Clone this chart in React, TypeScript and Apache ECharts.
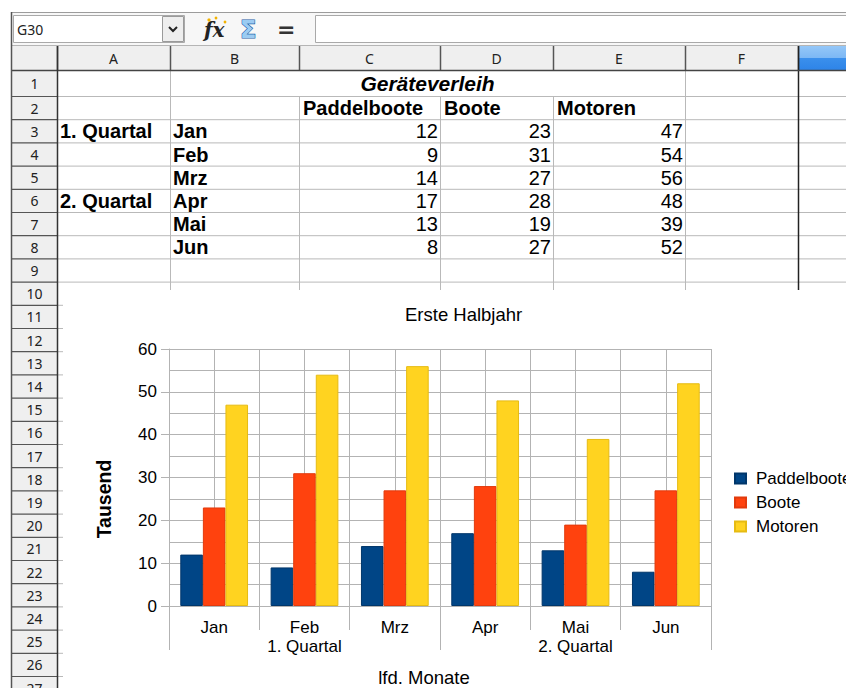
import React, { useEffect, useRef } from 'react';
import * as echarts from 'echarts';

// ---------- data ----------
const months = ['Jan', 'Feb', 'Mrz', 'Apr', 'Mai', 'Jun'];
const quarters = ['1. Quartal', '2. Quartal'];
const seriesNames = ['Paddelboote', 'Boote', 'Motoren'];
const paddelboote = [12, 9, 14, 17, 13, 8];
const boote = [23, 31, 27, 28, 19, 27];
const motoren = [47, 54, 56, 48, 39, 52];
const columnLetters = ['A', 'B', 'C', 'D', 'E', 'F'];
const rowNumbers = [1, 2, 3, 4, 5, 6, 7, 8, 9, 10, 11, 12, 13, 14, 15, 16, 17, 18, 19, 20, 21, 22, 23, 24, 25, 26, 27];
const sheetTitle = 'Geräteverleih';
const chartTitle = 'Erste Halbjahr';
const yAxisTitle = 'Tausend';
const xAxisTitle = 'lfd. Monate';
const nameBoxText = 'G30';
const yMin = 0;
const yMax = 60;
const yStep = 10;

// ---------- styles / layout ----------
const seriesColors = ['#004586', '#ff420e', '#ffd320'];
const seriesBorders = ['#00366a', '#e23a0c', '#e6bb12'];
const FONT = "'Liberation Sans', Arial, sans-serif";
const UI_FONT = "'Noto Sans', 'Open Sans', sans-serif";
const COL_X = [12, 57, 170, 299, 440, 553, 685, 798, 846];
const CHART_TOP = 290;
const CHART_LEFT = 63;
const GRID_COLOR = '#b3b3b3';

const rowTop = (r: number) => (r === 1 ? 70 : 96 + (r - 2) * 23.2);
const rowMid = (r: number) => (rowTop(r) + rowTop(r + 1)) / 2;

function buildSheet(): any[] {
  const els: any[] = [];
  const L = (x1: number, y1: number, x2: number, y2: number, stroke: string, w = 1) =>
    els.push({ type: 'line', silent: true, shape: { x1, y1, x2, y2 }, style: { stroke, lineWidth: w } });
  const T = (text: string, x: number, y: number, font: string, fill = '#000', align = 'left', extra: any = {}) =>
    els.push({ type: 'text', silent: true, x, y, style: { text, font, fill, align, verticalAlign: 'middle', ...extra } });

  // toolbar
  els.push({ type: 'rect', silent: true, shape: { x: 11, y: 12, width: 835, height: 34 }, style: { fill: '#f7f7f7' } });
  L(11, 12.5, 846, 12.5, '#9c9c9c');
  els.push({ type: 'rect', silent: true, shape: { x: 13.5, y: 15.5, width: 171, height: 27 }, style: { fill: '#ffffff', stroke: '#a9a9a9', lineWidth: 1 } });
  T(nameBoxText, 17, 29.5, `14px ${UI_FONT}`, '#222');
  els.push({ type: 'rect', silent: true, shape: { x: 162.5, y: 16.5, width: 21, height: 25 }, style: { fill: '#eeeeee', stroke: '#9a9a9a', lineWidth: 1 } });
  els.push({ type: 'polyline', silent: true, shape: { points: [[169, 27], [173, 31], [177, 27]] }, style: { stroke: '#222', lineWidth: 2, fill: null } });
  T('fx', 204, 30, `italic bold 20px 'DejaVu Serif', serif`, '#222');
  els.push({ type: 'circle', silent: true, shape: { cx: 209, cy: 20, r: 1.6 }, style: { fill: '#f2b200' } });
  els.push({ type: 'circle', silent: true, shape: { cx: 216, cy: 18, r: 1.4 }, style: { fill: '#f2b200' } });
  els.push({ type: 'circle', silent: true, shape: { cx: 225, cy: 22, r: 1.4 }, style: { fill: '#f2b200' } });
  T('Σ', 240, 30, `bold 24px 'DejaVu Sans', sans-serif`, '#9ccbf2', 'left', { stroke: '#1d5ea8', lineWidth: 1.2 });
  T('=', 277, 29.5, `bold 22px 'DejaVu Sans', sans-serif`, '#333');
  els.push({ type: 'rect', silent: true, shape: { x: 315.5, y: 15.5, width: 540, height: 27 }, style: { fill: '#ffffff', stroke: '#a9a9a9', lineWidth: 1 } });
  L(11, 45.5, 846, 45.5, '#b5b5b5');

  // column header
  els.push({ type: 'rect', silent: true, shape: { x: 12, y: 46, width: 834, height: 24 }, style: { fill: '#efefef' } });
  els.push({
    type: 'rect', silent: true, shape: { x: 798, y: 46, width: 48, height: 24 },
    style: {
      fill: new echarts.graphic.LinearGradient(0, 0, 0, 1, [
        { offset: 0, color: '#94c7f8' },
        { offset: 0.48, color: '#7db8f5' },
        { offset: 0.52, color: '#3a8fec' },
        { offset: 1, color: '#2e84e8' },
      ]),
    },
  });
  columnLetters.forEach((c, i) => {
    T(c, (COL_X[i + 1] + COL_X[i + 2]) / 2, 58.5, `14px ${UI_FONT}`, '#222', 'center');
  });
  for (let i = 1; i < COL_X.length - 1; i++) L(COL_X[i] + 0.5, 46, COL_X[i] + 0.5, 70, '#555', 1.5);

  // row header column
  els.push({ type: 'rect', silent: true, shape: { x: 12, y: 70, width: 45, height: 620 }, style: { fill: '#efefef' } });

  // cell grid
  rowNumbers.forEach((r) => {
    const yb = rowTop(r + 1) + 0.5;
    if (yb < CHART_TOP) L(57, yb, 846, yb, '#b9b9b9');
    else L(57, yb, CHART_LEFT, yb, '#b9b9b9');
    L(12, yb, 57, yb, '#555', 1.2);
    T(String(r), 34.5, rowMid(r) + 0.5, `14px ${UI_FONT}`, '#222', 'center');
  });
  [170, 299, 440, 553, 685].forEach((x) => {
    const merged = x === 299 || x === 440 || x === 553;
    L(x + 0.5, merged ? rowTop(2) : 70, x + 0.5, CHART_TOP, '#b9b9b9');
  });
  L(798.5, 46, 798.5, CHART_TOP, '#222', 1.5);
  L(12, 70.5, 846, 70.5, '#444', 1.5);
  L(57.5, 46, 57.5, 688, '#333', 1.5);
  L(11.5, 12, 11.5, 688, '#555', 1.5);

  // cell contents
  const BOLD = `bold 20px ${FONT}`;
  const REG = `20px ${FONT}`;
  T(sheetTitle, (COL_X[2] + COL_X[6]) / 2, rowMid(1), `italic bold 21px ${FONT}`, '#000', 'center');
  seriesNames.forEach((n, i) => T(n, COL_X[3 + i] + 4, rowMid(2) + 0.5, BOLD));
  quarters.forEach((q, i) => T(q, COL_X[1] + 3, rowMid(3 + i * 3) + 0.5, BOLD));
  months.forEach((m, i) => T(m, COL_X[2] + 3, rowMid(3 + i) + 0.5, BOLD));
  [paddelboote, boote, motoren].forEach((vals, c) => {
    vals.forEach((v, i) => T(String(v), COL_X[4 + c] - 2, rowMid(3 + i) + 0.5, REG, '#000', 'right'));
  });

  // chart free texts
  els.push({
    type: 'text', silent: true, x: 104, y: 499, rotation: Math.PI / 2,
    style: { text: yAxisTitle, font: `bold 19.5px ${FONT}`, fill: '#000', align: 'center', verticalAlign: 'middle' },
  });
  T(xAxisTitle, 424, 677.5, `18.5px ${FONT}`, '#000', 'center');
  return els;
}

export default function App() {
  const ref = useRef<HTMLDivElement>(null);
  useEffect(() => {
    if (!ref.current) return;
    const chart = echarts.init(ref.current, null, { renderer: 'svg' });
    const halfSlots = months.flatMap((m) => [m + '-a', m + '-b']);
    const seriesData = [paddelboote, boote, motoren];
    chart.setOption({
      animation: false,
      backgroundColor: '#ffffff',
      textStyle: { fontFamily: FONT },
      title: {
        text: chartTitle, left: 405, top: 305, padding: 0,
        textStyle: { fontSize: 18.5, fontWeight: 'normal', color: '#000', lineHeight: 19, fontFamily: FONT },
      },
      legend: {
        orient: 'vertical', left: 734, top: 470, padding: 0,
        itemWidth: 11, itemHeight: 10, itemGap: 7, icon: 'rect',
        textStyle: { fontSize: 17, color: '#000', padding: [0, 0, 0, 5], fontFamily: FONT },
        data: seriesNames,
      },
      grid: { left: 169, right: 135, top: 349, bottom: 82, containLabel: false, outerBoundsMode: 'none' },
      xAxis: [
        {
          type: 'category', data: months, position: 'bottom',
          axisLine: { show: true, lineStyle: { color: GRID_COLOR } },
          axisTick: { show: true, length: 24, lineStyle: { color: GRID_COLOR } },
          axisLabel: { margin: 13.5, fontSize: 17, color: '#000', lineHeight: 15, fontFamily: FONT },
          splitLine: { show: false },
        },
        {
          type: 'category', data: quarters, position: 'bottom',
          axisLine: { show: false },
          axisTick: { show: true, length: 44, lineStyle: { color: GRID_COLOR } },
          axisLabel: { margin: 33, fontSize: 17, color: '#000', lineHeight: 15, fontFamily: FONT },
          splitLine: { show: false },
        },
        {
          type: 'category', data: halfSlots, position: 'bottom',
          axisLine: { show: false }, axisTick: { show: false }, axisLabel: { show: false },
          splitLine: { show: true, interval: 0, lineStyle: { color: GRID_COLOR } },
        },
      ],
      yAxis: {
        type: 'value', min: yMin, max: yMax, interval: yStep,
        axisLine: { show: true, lineStyle: { color: GRID_COLOR } },
        axisTick: { show: true, length: 8, lineStyle: { color: GRID_COLOR } },
        axisLabel: { margin: 12, fontSize: 17, color: '#000', fontFamily: FONT },
        splitLine: { show: true, lineStyle: { color: GRID_COLOR } },
        minorTick: { show: false, splitNumber: 2 },
        minorSplitLine: { show: true, lineStyle: { color: GRID_COLOR } },
      },
      series: seriesNames.map((name, i) => ({
        type: 'bar', name, data: seriesData[i], xAxisIndex: 0, yAxisIndex: 0,
        barGap: '0%', barCategoryGap: '25%',
        itemStyle: { color: seriesColors[i], borderColor: seriesBorders[i], borderWidth: 1 },
      })),
      graphic: buildSheet(),
    });
    return () => chart.dispose();
  }, []);
  return (
    <div
      ref={ref}
      style={{ position: 'fixed', left: 0, top: 0, width: 846, height: 688, background: '#fff' }}
    />
  );
}
